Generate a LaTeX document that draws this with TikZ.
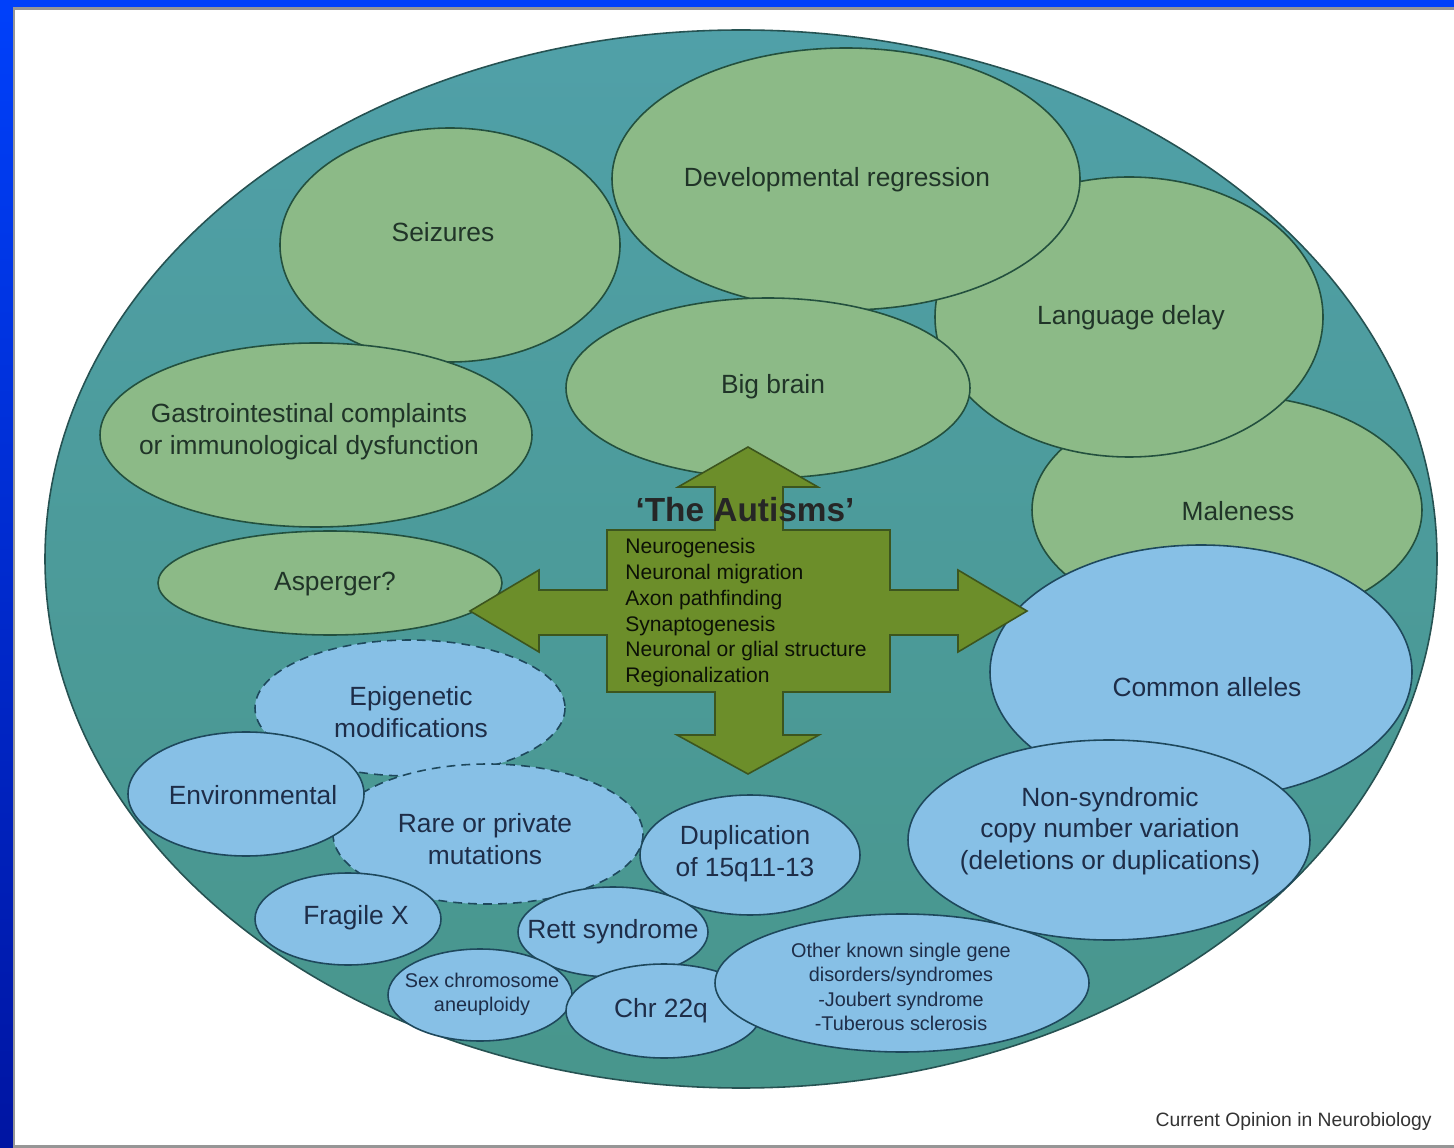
\documentclass[tikz,border=0pt]{standalone}
\usepackage{fontspec}
\setmainfont{Liberation Sans}

\definecolor{slideblue}{RGB}{0,64,250}
\definecolor{slidenavy}{RGB}{0,10,140}
\definecolor{framegray}{RGB}{150,150,150}
\definecolor{tealtop}{RGB}{80,160,168}
\definecolor{tealbot}{RGB}{72,150,140}
\definecolor{tealedge}{RGB}{38,82,82}
\definecolor{blobgreen}{RGB}{140,186,135}
\definecolor{edgegreen}{RGB}{35,80,62}
\definecolor{blobblue}{RGB}{135,192,230}
\definecolor{edgeblue}{RGB}{30,72,92}
\definecolor{arrowolive}{RGB}{108,142,42}
\definecolor{arrowedge}{RGB}{60,85,30}
\definecolor{txtgreen}{RGB}{32,52,40}
\definecolor{txtblue}{RGB}{30,45,72}

\begin{document}
\begin{tikzpicture}[
  x=0.02cm, y=-0.02cm,
  gblob/.style={fill=blobgreen, draw=edgegreen, line width=0.9pt},
  bblob/.style={fill=blobblue, draw=edgeblue, line width=0.9pt},
  dblob/.style={bblob, dash pattern=on 5pt off 3.5pt},
  lbl/.style={align=center, inner sep=0pt, font=\fontsize{15}{18.1}\selectfont},
  glbl/.style={lbl, text=txtgreen},
  blbl/.style={lbl, text=txtblue},
  smalllbl/.style={blbl, font=\fontsize{11.3}{13.8}\selectfont},
  crossarrow/.style={fill=arrowolive, draw=arrowedge, line width=0.9pt, line join=miter}
]
  \useasboundingbox (0,0) rectangle (1454,1148);

  % slide frame
  \shade[left color=slideblue, middle color=slidenavy, right color=slideblue] (0,0) rectangle (1454,8);
  \shade[top color=slideblue, bottom color=slidenavy!80!slideblue] (0,8) rectangle (14,1148);
  \fill[white] (14,8) rectangle (1454,1148);
  \draw[framegray, line width=0.06cm] (1454,9) -- (14,9) -- (14,1146) -- (1454,1146);

  % the autism spectrum
  \shadedraw[top color=tealtop, bottom color=tealbot, draw=tealedge, line width=0.9pt]
    (741,559) ellipse [x radius=696, y radius=529];

  % phenotypes
  \draw[gblob] (450,245) ellipse [x radius=170, y radius=117];
  \draw[gblob] (1227,510) ellipse [x radius=195, y radius=115];
  \draw[gblob] (1129,317) ellipse [x radius=194, y radius=140];
  \draw[gblob] (846,179) ellipse [x radius=234, y radius=131];
  \draw[gblob] (768,388) ellipse [x radius=202, y radius=90];
  \draw[gblob] (316,435) ellipse [x radius=216, y radius=92];
  \draw[gblob] (330,583) ellipse [x radius=172, y radius=52];

  % causes
  \draw[dblob] (410,708) ellipse [x radius=155, y radius=68];
  \draw[dblob] (488,834) ellipse [x radius=155, y radius=70];
  \draw[bblob] (246,794) ellipse [x radius=118, y radius=62];
  \draw[bblob] (348,919) ellipse [x radius=93, y radius=46];
  \draw[bblob] (750,855) ellipse [x radius=110, y radius=60];
  \draw[bblob] (613,932) ellipse [x radius=95, y radius=45];
  \draw[bblob] (480,995) ellipse [x radius=92, y radius=46];
  \draw[bblob] (664,1011) ellipse [x radius=98, y radius=47];
  \draw[bblob] (902,983) ellipse [x radius=187, y radius=69];
  \draw[bblob] (1201,672) ellipse [x radius=211, y radius=127];
  \draw[bblob] (1109,840) ellipse [x radius=201, y radius=100];

  % four-way arrow
  \draw[crossarrow] (748,447) -- (818,487) -- (783,487) -- (783,530) -- (890,530)
    -- (890,590) -- (958,590) -- (958,570) -- (1027,611) -- (958,652) -- (958,635)
    -- (890,635) -- (890,692) -- (783,692) -- (783,735) -- (819,735) -- (748,774)
    -- (677,735) -- (715,735) -- (715,692) -- (607,692) -- (607,635) -- (539,635)
    -- (539,652) -- (470,611) -- (539,570) -- (539,590) -- (607,590) -- (607,530)
    -- (715,530) -- (715,487) -- (678,487) -- cycle;

  \node[glbl] (seizures) at (443,232) {Seizures};
  \node[glbl] (devreg) at (837,180) {Developmental regression};
  \node[glbl] (language) at (1131,318) {Language delay};
  \node[glbl] (bigbrain) at (773,387) {Big brain};
  \node[glbl] (gastro) at (309,432) {Gastrointestinal complaints\\or immunological dysfunction};
  \node[glbl] (asperger) at (335,584) {Asperger?};
  \node[glbl] (maleness) at (1238,511) {Maleness};

  \node[blbl] (common) at (1207,687) {Common alleles};
  \node[blbl] (cnv) at (1110,831) {Non-syndromic\\copy number variation\\(deletions or duplications)};
  \node[blbl] (epigen) at (411,712) {Epigenetic\\modifications};
  \node[blbl] (environ) at (253,795) {Environmental};
  \node[blbl] (rare) at (485,839) {Rare or private\\mutations};
  \node[blbl] (dup) at (745,854) {Duplication\\of 15q11-13};
  \node[blbl] (fragile) at (356,918) {Fragile X};
  \node[blbl] (rett) at (613,932) {Rett syndrome};
  \node[smalllbl] (sexchr) at (482,994) {Sex chromosome\\aneuploidy};
  \node[blbl] (chr22) at (661,1011) {Chr 22q};
  \node[smalllbl] (other) at (901,987)
    {Other known single gene\\disorders/syndromes\\-Joubert syndrome\\-Tuberous sclerosis};

  \node[inner sep=0pt, text=black!85, font=\bfseries\fontsize{19}{22}\selectfont] (title) at (745,510) {`The Autisms'};
  \node[inner sep=0pt, anchor=north west, align=left, text=black!80!arrowedge,
    font=\fontsize{12}{14.7}\selectfont] (process) at (625,538)
    {Neurogenesis\\Neuronal migration\\Axon pathfinding\\Synaptogenesis\\Neuronal or glial structure\\Regionalization};

  \node[anchor=east, inner sep=0pt, text=black!80, font=\fontsize{11}{13}\selectfont] (credit) at (1432,1121) {Current Opinion in Neurobiology};
\end{tikzpicture}
\end{document}
